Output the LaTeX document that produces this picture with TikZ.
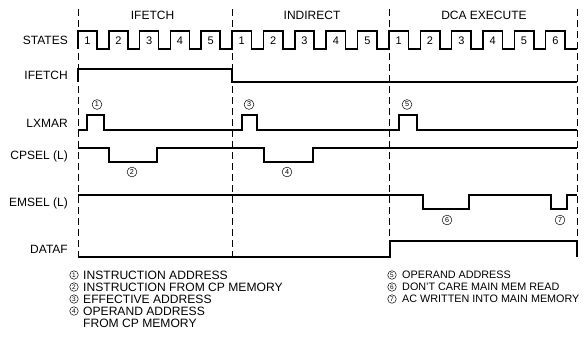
\documentclass[tikz,border=0pt]{standalone}
\usepackage{fontspec}
\setmainfont{Liberation Sans}
\tikzset{
  wave/.style={line width=1.6pt, line join=miter},
  phaseline/.style={line width=0.6pt, dash pattern=on 7pt off 4pt},
  siglabel/.style={anchor=east, inner sep=0pt, text height=8.6pt, text depth=0pt, font=\fontsize{12}{14}\selectfont},
  phaselabel/.style={inner sep=0pt, text height=8.6pt, text depth=0pt, font=\fontsize{12}{14}\selectfont},
  statenum/.style={inner sep=0pt, text height=7.9pt, text depth=0pt, font=\fontsize{11}{13}\selectfont},
  circnum/.style={circle, draw, line width=0.5pt, inner sep=0pt, minimum size=9.8pt, font=\fontsize{7.2}{8}\selectfont},
  legcirc/.style={circle, draw, line width=0.5pt, inner sep=0pt, minimum size=8.5pt, font=\fontsize{6.5}{7}\selectfont},
  legtextL/.style={anchor=west, inner sep=0pt, text height=8.2pt, text depth=0pt, font=\fontsize{12.1}{13}\selectfont},
  legtextR/.style={anchor=west, inner sep=0pt, text height=7.8pt, text depth=0pt, font=\fontsize{10.8}{12}\selectfont},
}
\begin{document}
\begin{tikzpicture}[x=1pt,y=-1pt]
\useasboundingbox (0,0) rectangle (584,338);

% phase boundaries
\foreach \x in {78,232,389,577} \draw[phaseline] (\x,9) -- (\x,257);

% phase labels
\node[phaselabel] (pIF) at (152.5,15) {IFETCH};
\node[phaselabel] (pIND) at (312,15) {INDIRECT};
\node[phaselabel] (pDCA) at (484,15) {DCA EXECUTE};

% signal labels
\node[siglabel] (lST) at (68,40) {STATES};
\node[siglabel] (lIF) at (68,75) {IFETCH};
\node[siglabel] (lLX) at (68,123) {LXMAR};
\node[siglabel] (lCP) at (68,155) {CPSEL (L)};
\node[siglabel] (lEM) at (68,202) {EMSEL (L)};
\node[siglabel] (lDA) at (68,249) {DATAF};

% STATES waveform
\draw[wave] (78,49)
  \foreach \s/\p in {78/30.8,108.8/30.8,139.6/30.8,170.4/30.8,201.2/30.8,
                     232/31.4,263.4/31.4,294.8/31.4,326.2/31.4,357.6/31.4,
                     389/31.33,420.33/31.33,451.67/31.33,483/31.33,514.33/31.33,545.67/31.33}
  { -- (\s,49) -- (\s,31) -- ({\s+0.62*\p},31) -- ({\s+0.62*\p},49) } -- (577,49);
\foreach \s/\p/\n [count=\i] in {78/30.8/1,108.8/30.8/2,139.6/30.8/3,170.4/30.8/4,201.2/30.8/5,
                     232/31.4/1,263.4/31.4/2,294.8/31.4/3,326.2/31.4/4,357.6/31.4/5,
                     389/31.33/1,420.33/31.33/2,451.67/31.33/3,483/31.33/4,514.33/31.33/5,545.67/31.33/6}
  \node[statenum] (st\i) at ({\s+0.31*\p},40.5) {\n};

% IFETCH
\draw[wave] (78,82) -- (78,69) -- (232,69) -- (232,82) -- (577,82);

% LXMAR
\draw[wave] (78,130) -- (87,130) -- (87,115) -- (104,115) -- (104,130)
  -- (242,130) -- (242,115) -- (257,115) -- (257,130)
  -- (399,130) -- (399,115) -- (417,115) -- (417,130) -- (577,130);
\node[circnum] (c1) at (97,104.5) {1};
\node[circnum] (c3) at (249,104.5) {3};
\node[circnum] (c5) at (407,104.5) {5};

% CPSEL (L)
\draw[wave] (78,148) -- (109,148) -- (109,162) -- (157,162) -- (157,148)
  -- (264,148) -- (264,162) -- (313,162) -- (313,148) -- (577,148);
\node[circnum] (c2) at (132,172) {2};
\node[circnum] (c4) at (287,172) {4};

% EMSEL (L)
\draw[wave] (78,195) -- (423,195) -- (423,209) -- (469,209) -- (469,195)
  -- (551,195) -- (551,209) -- (567,209) -- (567,195) -- (577,195);
\node[circnum] (c6) at (447,220) {6};
\node[circnum] (c7) at (560,220) {7};

% DATAF
\draw[wave] (78,257) -- (390,257) -- (390,241) -- (577,241) -- (577,257);

% legend
\node[legcirc] (k1) at (74,275) {1};
\node[legtextL] (t1) at (83,275) {INSTRUCTION ADDRESS};
\node[legcirc] (k2) at (74,287) {2};
\node[legtextL] (t2) at (83,287) {INSTRUCTION FROM CP MEMORY};
\node[legcirc] (k3) at (74,299) {3};
\node[legtextL] (t3) at (83,299) {EFFECTIVE ADDRESS};
\node[legcirc] (k4) at (74,311) {4};
\node[legtextL] (t4) at (83,311) {OPERAND ADDRESS};
\node[legtextL] (t4b) at (83,323) {FROM CP MEMORY};
\node[legcirc] (k5) at (392,275) {5};
\node[legtextR] (t5) at (402,275) {OPERAND ADDRESS};
\node[legcirc] (k6) at (392,287) {6};
\node[legtextR] (t6) at (402,287) {DON'T CARE MAIN MEM READ};
\node[legcirc] (k7) at (392,299) {7};
\node[legtextR] (t7) at (402,299) {AC WRITTEN INTO MAIN MEMORY};
\end{tikzpicture}
\end{document}
